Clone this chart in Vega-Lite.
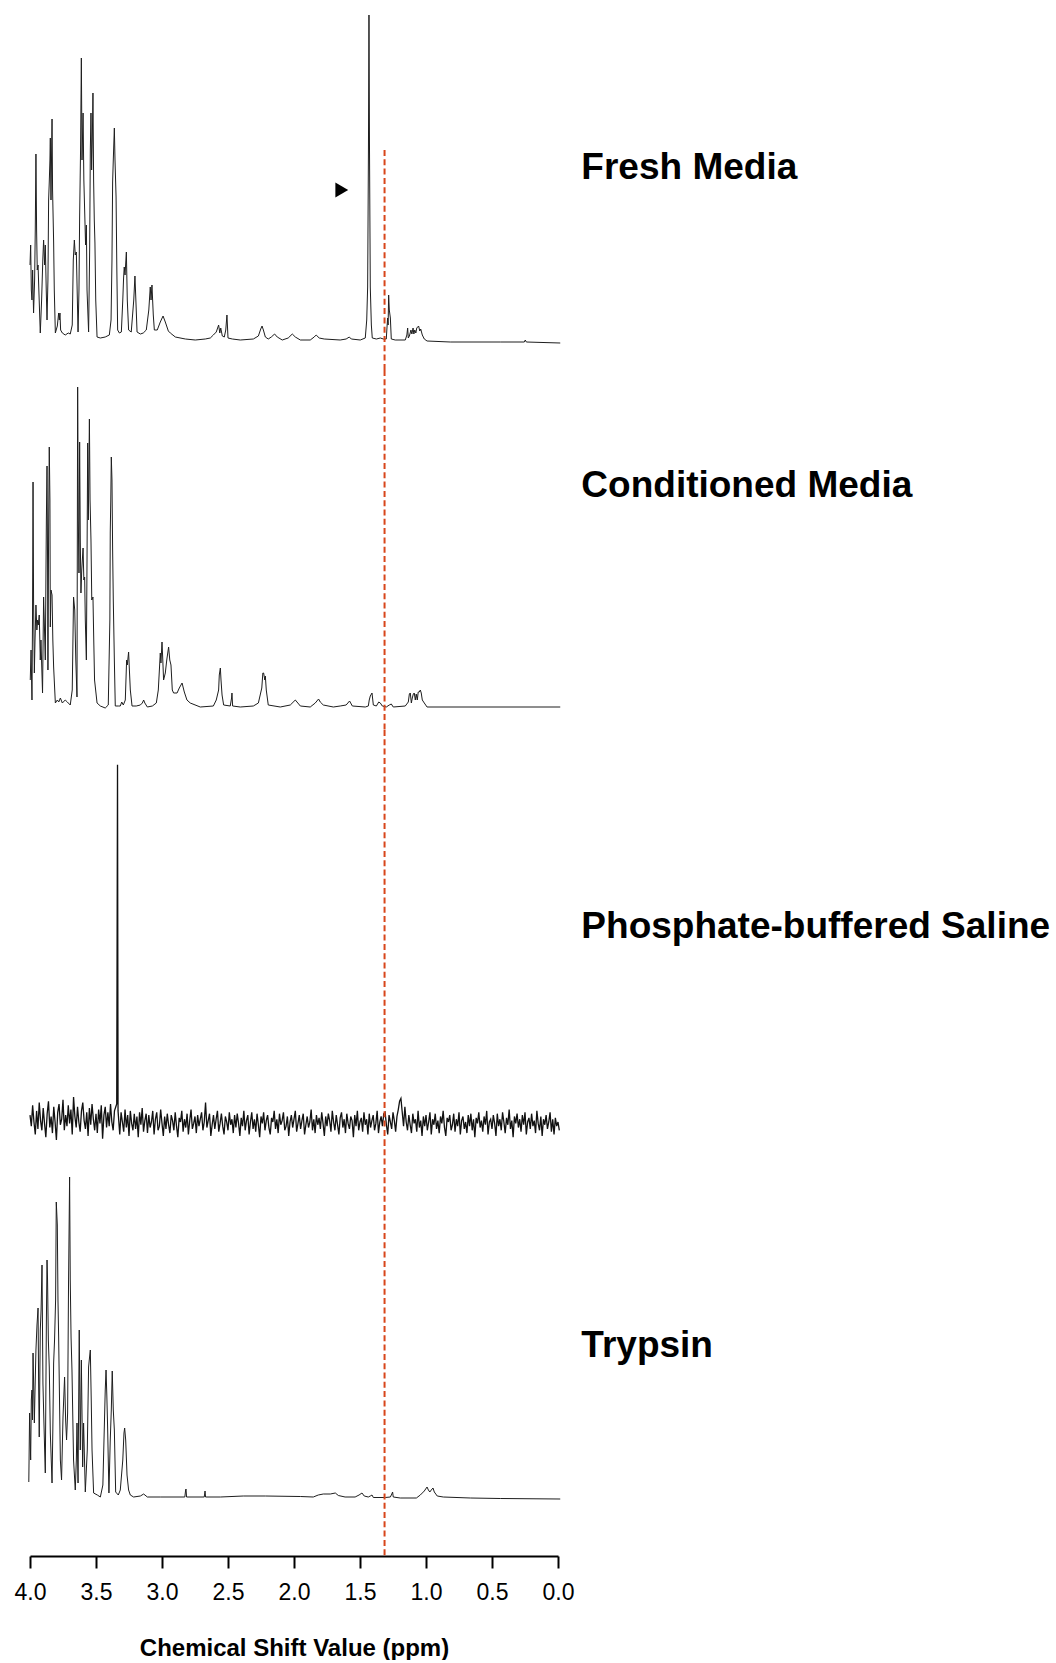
{
  "$schema": "https://vega.github.io/schema/vega-lite/v6.json",
  "background": "white",
  "padding": {"left": 14, "top": 0, "right": 0, "bottom": 0},
  "bounds": "flush",
  "spacing": 0,
  "config": {
    "view": {"stroke": null},
    "font": "Liberation Sans",
    "concat": {"spacing": 0},
    "line": {"color": "#1e1e1e", "strokeWidth": 1},
    "text": {"font": "Liberation Sans"}
  },
  "datasets": {
    "fresh": [
      {"ppm":4.0,"I":75},{"ppm":3.995,"I":95},{"ppm":3.99,"I":50},{"ppm":3.985,"I":40},{"ppm":3.98,"I":70},{"ppm":3.973,"I":27},{"ppm":3.965,"I":60},{"ppm":3.96,"I":110},{"ppm":3.955,"I":186},{"ppm":3.95,"I":110},{"ppm":3.945,"I":70},{"ppm":3.939,"I":75},{"ppm":3.933,"I":50},{"ppm":3.922,"I":7},{"ppm":3.912,"I":40},{"ppm":3.903,"I":80},{"ppm":3.897,"I":100},{"ppm":3.889,"I":75},{"ppm":3.884,"I":95},{"ppm":3.877,"I":50},{"ppm":3.871,"I":20},{"ppm":3.864,"I":60},{"ppm":3.859,"I":140},{"ppm":3.854,"I":158},{"ppm":3.849,"I":180},{"ppm":3.846,"I":202},{"ppm":3.841,"I":140},{"ppm":3.833,"I":221},{"ppm":3.829,"I":150},{"ppm":3.821,"I":98},{"ppm":3.816,"I":50},{"ppm":3.808,"I":7},{"ppm":3.793,"I":14},{"ppm":3.783,"I":27},{"ppm":3.778,"I":20},{"ppm":3.773,"I":27},{"ppm":3.768,"I":10},{"ppm":3.755,"I":7},{"ppm":3.733,"I":5},{"ppm":3.71,"I":7},{"ppm":3.695,"I":6},{"ppm":3.68,"I":15},{"ppm":3.672,"I":80},{"ppm":3.664,"I":100},{"ppm":3.657,"I":85},{"ppm":3.649,"I":88},{"ppm":3.636,"I":8},{"ppm":3.629,"I":50},{"ppm":3.624,"I":123},{"ppm":3.617,"I":190},{"ppm":3.611,"I":282},{"ppm":3.606,"I":180},{"ppm":3.598,"I":227},{"ppm":3.592,"I":160},{"ppm":3.586,"I":130},{"ppm":3.579,"I":95},{"ppm":3.573,"I":115},{"ppm":3.568,"I":50},{"ppm":3.556,"I":8},{"ppm":3.548,"I":90},{"ppm":3.543,"I":190},{"ppm":3.538,"I":227},{"ppm":3.533,"I":170},{"ppm":3.528,"I":200},{"ppm":3.523,"I":247},{"ppm":3.518,"I":160},{"ppm":3.513,"I":120},{"ppm":3.508,"I":97},{"ppm":3.502,"I":40},{"ppm":3.492,"I":3},{"ppm":3.467,"I":2},{"ppm":3.43,"I":3},{"ppm":3.399,"I":5},{"ppm":3.386,"I":20},{"ppm":3.379,"I":80},{"ppm":3.374,"I":158},{"ppm":3.369,"I":180},{"ppm":3.361,"I":212},{"ppm":3.356,"I":180},{"ppm":3.348,"I":143},{"ppm":3.342,"I":70},{"ppm":3.336,"I":10},{"ppm":3.323,"I":7},{"ppm":3.308,"I":8},{"ppm":3.297,"I":40},{"ppm":3.291,"I":62},{"ppm":3.286,"I":73},{"ppm":3.28,"I":65},{"ppm":3.27,"I":88},{"ppm":3.263,"I":40},{"ppm":3.253,"I":10},{"ppm":3.233,"I":8},{"ppm":3.214,"I":40},{"ppm":3.205,"I":64},{"ppm":3.198,"I":40},{"ppm":3.189,"I":8},{"ppm":3.164,"I":6},{"ppm":3.142,"I":7},{"ppm":3.119,"I":10},{"ppm":3.1,"I":30},{"ppm":3.089,"I":53},{"ppm":3.083,"I":40},{"ppm":3.076,"I":55},{"ppm":3.066,"I":25},{"ppm":3.058,"I":10},{"ppm":3.036,"I":10},{"ppm":3.013,"I":18},{"ppm":2.992,"I":24},{"ppm":2.975,"I":18},{"ppm":2.952,"I":9},{"ppm":2.937,"I":7},{"ppm":2.899,"I":3},{"ppm":2.823,"I":1},{"ppm":2.748,"I":0},{"ppm":2.672,"I":1},{"ppm":2.634,"I":2},{"ppm":2.611,"I":5},{"ppm":2.589,"I":8},{"ppm":2.571,"I":15},{"ppm":2.562,"I":7},{"ppm":2.555,"I":12},{"ppm":2.543,"I":4},{"ppm":2.528,"I":3},{"ppm":2.517,"I":10},{"ppm":2.508,"I":25},{"ppm":2.5,"I":2},{"ppm":2.467,"I":1},{"ppm":2.407,"I":0},{"ppm":2.308,"I":1},{"ppm":2.27,"I":4},{"ppm":2.252,"I":11},{"ppm":2.242,"I":14},{"ppm":2.232,"I":10},{"ppm":2.217,"I":3},{"ppm":2.195,"I":1},{"ppm":2.172,"I":3},{"ppm":2.147,"I":6},{"ppm":2.127,"I":3},{"ppm":2.089,"I":0},{"ppm":2.044,"I":2},{"ppm":2.013,"I":6},{"ppm":1.99,"I":3},{"ppm":1.952,"I":0},{"ppm":1.877,"I":0},{"ppm":1.847,"I":3},{"ppm":1.832,"I":5},{"ppm":1.809,"I":2},{"ppm":1.771,"I":1},{"ppm":1.65,"I":0},{"ppm":1.605,"I":1},{"ppm":1.581,"I":3},{"ppm":1.566,"I":1},{"ppm":1.498,"I":0},{"ppm":1.46,"I":2},{"ppm":1.449,"I":20},{"ppm":1.442,"I":53},{"ppm":1.436,"I":190},{"ppm":1.432,"I":325},{"ppm":1.428,"I":190},{"ppm":1.422,"I":53},{"ppm":1.414,"I":15},{"ppm":1.407,"I":2},{"ppm":1.376,"I":1},{"ppm":1.346,"I":2},{"ppm":1.323,"I":1},{"ppm":1.301,"I":1},{"ppm":1.291,"I":22},{"ppm":1.287,"I":15},{"ppm":1.283,"I":45},{"ppm":1.278,"I":30},{"ppm":1.27,"I":22},{"ppm":1.263,"I":1},{"ppm":1.233,"I":0},{"ppm":1.157,"I":0},{"ppm":1.145,"I":5},{"ppm":1.139,"I":12},{"ppm":1.134,"I":2},{"ppm":1.126,"I":4},{"ppm":1.114,"I":10},{"ppm":1.107,"I":6},{"ppm":1.098,"I":12},{"ppm":1.092,"I":6},{"ppm":1.085,"I":10},{"ppm":1.077,"I":7},{"ppm":1.07,"I":12},{"ppm":1.056,"I":14},{"ppm":1.047,"I":9},{"ppm":1.04,"I":11},{"ppm":1.028,"I":5},{"ppm":1.013,"I":1},{"ppm":0.992,"I":-1},{"ppm":0.816,"I":-2},{"ppm":0.437,"I":-2},{"ppm":0.255,"I":-2},{"ppm":0.248,"I":0},{"ppm":0.24,"I":-2},{"ppm":-0.017,"I":-3}
    ],
    "cond": [
      {"ppm":3.998,"I":27},{"ppm":3.992,"I":57},{"ppm":3.985,"I":7},{"ppm":3.981,"I":87},{"ppm":3.977,"I":225},{"ppm":3.973,"I":107},{"ppm":3.967,"I":34},{"ppm":3.962,"I":67},{"ppm":3.955,"I":102},{"ppm":3.948,"I":77},{"ppm":3.942,"I":87},{"ppm":3.937,"I":82},{"ppm":3.93,"I":92},{"ppm":3.922,"I":47},{"ppm":3.917,"I":67},{"ppm":3.905,"I":14},{"ppm":3.897,"I":110},{"ppm":3.892,"I":87},{"ppm":3.884,"I":47},{"ppm":3.876,"I":187},{"ppm":3.871,"I":241},{"ppm":3.867,"I":147},{"ppm":3.864,"I":37},{"ppm":3.859,"I":177},{"ppm":3.854,"I":260},{"ppm":3.849,"I":207},{"ppm":3.846,"I":80},{"ppm":3.841,"I":117},{"ppm":3.833,"I":112},{"ppm":3.827,"I":67},{"ppm":3.821,"I":40},{"ppm":3.808,"I":4},{"ppm":3.793,"I":7},{"ppm":3.782,"I":5},{"ppm":3.77,"I":9},{"ppm":3.755,"I":4},{"ppm":3.733,"I":7},{"ppm":3.717,"I":5},{"ppm":3.695,"I":2},{"ppm":3.68,"I":17},{"ppm":3.67,"I":110},{"ppm":3.661,"I":97},{"ppm":3.653,"I":47},{"ppm":3.644,"I":10},{"ppm":3.639,"I":320},{"ppm":3.634,"I":187},{"ppm":3.629,"I":134},{"ppm":3.624,"I":265},{"ppm":3.619,"I":167},{"ppm":3.614,"I":114},{"ppm":3.608,"I":137},{"ppm":3.598,"I":159},{"ppm":3.592,"I":127},{"ppm":3.586,"I":130},{"ppm":3.581,"I":87},{"ppm":3.573,"I":47},{"ppm":3.568,"I":147},{"ppm":3.563,"I":264},{"ppm":3.558,"I":187},{"ppm":3.55,"I":288},{"ppm":3.545,"I":207},{"ppm":3.538,"I":167},{"ppm":3.532,"I":107},{"ppm":3.523,"I":110},{"ppm":3.517,"I":67},{"ppm":3.511,"I":27},{"ppm":3.492,"I":4},{"ppm":3.467,"I":1},{"ppm":3.43,"I":-1},{"ppm":3.407,"I":2},{"ppm":3.395,"I":87},{"ppm":3.392,"I":175},{"ppm":3.388,"I":207},{"ppm":3.384,"I":250},{"ppm":3.379,"I":227},{"ppm":3.374,"I":157},{"ppm":3.369,"I":107},{"ppm":3.361,"I":47},{"ppm":3.354,"I":1},{"ppm":3.331,"I":1},{"ppm":3.316,"I":1},{"ppm":3.305,"I":5},{"ppm":3.293,"I":2},{"ppm":3.278,"I":7},{"ppm":3.268,"I":47},{"ppm":3.263,"I":42},{"ppm":3.253,"I":55},{"ppm":3.247,"I":37},{"ppm":3.24,"I":17},{"ppm":3.227,"I":1},{"ppm":3.195,"I":1},{"ppm":3.164,"I":2},{"ppm":3.149,"I":4},{"ppm":3.139,"I":7},{"ppm":3.13,"I":4},{"ppm":3.111,"I":0},{"ppm":3.073,"I":1},{"ppm":3.043,"I":4},{"ppm":3.028,"I":17},{"ppm":3.013,"I":54},{"ppm":3.008,"I":44},{"ppm":3.0,"I":65},{"ppm":2.994,"I":47},{"ppm":2.988,"I":27},{"ppm":2.975,"I":34},{"ppm":2.964,"I":47},{"ppm":2.95,"I":60},{"ppm":2.941,"I":47},{"ppm":2.932,"I":42},{"ppm":2.922,"I":17},{"ppm":2.912,"I":14},{"ppm":2.886,"I":14},{"ppm":2.869,"I":19},{"ppm":2.848,"I":24},{"ppm":2.831,"I":15},{"ppm":2.811,"I":7},{"ppm":2.786,"I":4},{"ppm":2.71,"I":0},{"ppm":2.611,"I":1},{"ppm":2.589,"I":7},{"ppm":2.571,"I":17},{"ppm":2.566,"I":32},{"ppm":2.558,"I":39},{"ppm":2.553,"I":27},{"ppm":2.545,"I":12},{"ppm":2.533,"I":2},{"ppm":2.483,"I":1},{"ppm":2.473,"I":9},{"ppm":2.47,"I":14},{"ppm":2.465,"I":1},{"ppm":2.407,"I":0},{"ppm":2.308,"I":1},{"ppm":2.27,"I":4},{"ppm":2.244,"I":19},{"ppm":2.236,"I":34},{"ppm":2.23,"I":34},{"ppm":2.221,"I":27},{"ppm":2.217,"I":31},{"ppm":2.21,"I":17},{"ppm":2.195,"I":2},{"ppm":2.104,"I":0},{"ppm":2.028,"I":2},{"ppm":1.99,"I":7},{"ppm":1.952,"I":1},{"ppm":1.877,"I":0},{"ppm":1.839,"I":4},{"ppm":1.814,"I":8},{"ppm":1.801,"I":5},{"ppm":1.778,"I":2},{"ppm":1.702,"I":0},{"ppm":1.65,"I":1},{"ppm":1.605,"I":2},{"ppm":1.579,"I":6},{"ppm":1.558,"I":1},{"ppm":1.46,"I":0},{"ppm":1.437,"I":1},{"ppm":1.43,"I":7},{"ppm":1.422,"I":11},{"ppm":1.409,"I":14},{"ppm":1.399,"I":2},{"ppm":1.376,"I":1},{"ppm":1.358,"I":5},{"ppm":1.346,"I":4},{"ppm":1.331,"I":1},{"ppm":1.301,"I":0},{"ppm":1.278,"I":2},{"ppm":1.263,"I":3},{"ppm":1.248,"I":0},{"ppm":1.157,"I":1},{"ppm":1.134,"I":5},{"ppm":1.126,"I":13},{"ppm":1.119,"I":14},{"ppm":1.111,"I":4},{"ppm":1.104,"I":9},{"ppm":1.096,"I":13},{"ppm":1.089,"I":14},{"ppm":1.081,"I":7},{"ppm":1.074,"I":13},{"ppm":1.066,"I":7},{"ppm":1.059,"I":15},{"ppm":1.051,"I":15},{"ppm":1.043,"I":17},{"ppm":1.036,"I":14},{"ppm":1.028,"I":7},{"ppm":1.013,"I":4},{"ppm":0.992,"I":0},{"ppm":-0.017,"I":0}
    ],
    "pbs": [
      {"ppm":4.0,"I":2},{"ppm":3.99,"I":-6},{"ppm":3.98,"I":9},{"ppm":3.97,"I":-3},{"ppm":3.96,"I":-12},{"ppm":3.95,"I":5},{"ppm":3.94,"I":-8},{"ppm":3.93,"I":11},{"ppm":3.92,"I":-2},{"ppm":3.91,"I":-9},
      {"ppm":3.9,"I":7},{"ppm":3.89,"I":-4},{"ppm":3.88,"I":-14},{"ppm":3.87,"I":3},{"ppm":3.86,"I":12},{"ppm":3.85,"I":-7},{"ppm":3.84,"I":1},{"ppm":3.83,"I":-11},{"ppm":3.82,"I":8},{"ppm":3.81,"I":-3},
      {"ppm":3.8,"I":-16},{"ppm":3.79,"I":4},{"ppm":3.78,"I":10},{"ppm":3.77,"I":-5},{"ppm":3.76,"I":-1},{"ppm":3.75,"I":13},{"ppm":3.74,"I":-9},{"ppm":3.73,"I":2},{"ppm":3.72,"I":-6},{"ppm":3.71,"I":9},
      {"ppm":3.7,"I":-4},{"ppm":3.69,"I":6},{"ppm":3.68,"I":-12},{"ppm":3.67,"I":15},{"ppm":3.66,"I":1},{"ppm":3.65,"I":-7},{"ppm":3.64,"I":8},{"ppm":3.63,"I":-3},{"ppm":3.62,"I":-10},{"ppm":3.61,"I":5},
      {"ppm":3.6,"I":11},{"ppm":3.59,"I":-2},{"ppm":3.58,"I":-8},{"ppm":3.57,"I":4},{"ppm":3.56,"I":-13},{"ppm":3.55,"I":7},{"ppm":3.54,"I":-5},{"ppm":3.53,"I":10},{"ppm":3.52,"I":-1},{"ppm":3.51,"I":-9},
      {"ppm":3.5,"I":3},{"ppm":3.49,"I":-11},{"ppm":3.48,"I":6},{"ppm":3.47,"I":-4},{"ppm":3.46,"I":9},{"ppm":3.45,"I":-15},{"ppm":3.44,"I":2},{"ppm":3.43,"I":8},{"ppm":3.42,"I":-7},{"ppm":3.41,"I":4},
      {"ppm":3.4,"I":-6},{"ppm":3.39,"I":10},{"ppm":3.38,"I":-3},{"ppm":3.37,"I":-9},{"ppm":3.36,"I":5},{"ppm":3.35,"I":8},{"ppm":3.343,"I":10},{"ppm":3.337,"I":255},{"ppm":3.333,"I":5},{"ppm":3.32,"I":-12},{"ppm":3.31,"I":4},
      {"ppm":3.3,"I":-3},{"ppm":3.29,"I":-10},{"ppm":3.28,"I":6},{"ppm":3.27,"I":-7},{"ppm":3.26,"I":2},{"ppm":3.25,"I":-13},{"ppm":3.24,"I":5},{"ppm":3.23,"I":-4},{"ppm":3.22,"I":-9},{"ppm":3.21,"I":3},
      {"ppm":3.2,"I":-8},{"ppm":3.19,"I":1},{"ppm":3.18,"I":-14},{"ppm":3.17,"I":4},{"ppm":3.16,"I":-5},{"ppm":3.15,"I":7},{"ppm":3.14,"I":-10},{"ppm":3.13,"I":-2},{"ppm":3.12,"I":3},{"ppm":3.11,"I":-11},
      {"ppm":3.1,"I":2},{"ppm":3.09,"I":-7},{"ppm":3.08,"I":-3},{"ppm":3.07,"I":5},{"ppm":3.06,"I":-12},{"ppm":3.05,"I":-1},{"ppm":3.04,"I":4},{"ppm":3.03,"I":-9},{"ppm":3.02,"I":-6},{"ppm":3.01,"I":6},
      {"ppm":3.0,"I":-4},{"ppm":2.99,"I":-13},{"ppm":2.98,"I":1},{"ppm":2.97,"I":-8},{"ppm":2.96,"I":3},{"ppm":2.95,"I":-5},{"ppm":2.94,"I":-11},{"ppm":2.93,"I":2},{"ppm":2.92,"I":-2},{"ppm":2.91,"I":-9},
      {"ppm":2.9,"I":4},{"ppm":2.89,"I":-6},{"ppm":2.88,"I":-14},{"ppm":2.87,"I":0},{"ppm":2.86,"I":-3},{"ppm":2.85,"I":5},{"ppm":2.84,"I":-10},{"ppm":2.83,"I":-1},{"ppm":2.82,"I":-7},{"ppm":2.81,"I":3},
      {"ppm":2.8,"I":-12},{"ppm":2.79,"I":-2},{"ppm":2.78,"I":6},{"ppm":2.77,"I":-8},{"ppm":2.76,"I":-4},{"ppm":2.75,"I":1},{"ppm":2.74,"I":-11},{"ppm":2.73,"I":2},{"ppm":2.72,"I":-6},{"ppm":2.71,"I":-1},
      {"ppm":2.7,"I":4},{"ppm":2.69,"I":-9},{"ppm":2.68,"I":-3},{"ppm":2.67,"I":11},{"ppm":2.66,"I":-7},{"ppm":2.65,"I":-2},{"ppm":2.64,"I":3},{"ppm":2.63,"I":-13},{"ppm":2.62,"I":-5},{"ppm":2.61,"I":2},
      {"ppm":2.6,"I":-8},{"ppm":2.59,"I":-1},{"ppm":2.58,"I":5},{"ppm":2.57,"I":-10},{"ppm":2.56,"I":-4},{"ppm":2.55,"I":3},{"ppm":2.54,"I":-6},{"ppm":2.53,"I":-12},{"ppm":2.52,"I":1},{"ppm":2.51,"I":-3},
      {"ppm":2.5,"I":-9},{"ppm":2.49,"I":4},{"ppm":2.48,"I":-5},{"ppm":2.47,"I":-1},{"ppm":2.46,"I":-11},{"ppm":2.45,"I":2},{"ppm":2.44,"I":-7},{"ppm":2.43,"I":3},{"ppm":2.42,"I":-4},{"ppm":2.41,"I":-13},
      {"ppm":2.4,"I":0},{"ppm":2.39,"I":-6},{"ppm":2.38,"I":5},{"ppm":2.37,"I":-9},{"ppm":2.36,"I":-2},{"ppm":2.35,"I":2},{"ppm":2.34,"I":-12},{"ppm":2.33,"I":-3},{"ppm":2.32,"I":4},{"ppm":2.31,"I":-8},
      {"ppm":2.3,"I":-1},{"ppm":2.29,"I":-10},{"ppm":2.28,"I":3},{"ppm":2.27,"I":-5},{"ppm":2.26,"I":-14},{"ppm":2.25,"I":1},{"ppm":2.24,"I":-4},{"ppm":2.23,"I":4},{"ppm":2.22,"I":-9},{"ppm":2.21,"I":-2},
      {"ppm":2.2,"I":2},{"ppm":2.19,"I":-7},{"ppm":2.18,"I":-12},{"ppm":2.17,"I":0},{"ppm":2.16,"I":-3},{"ppm":2.15,"I":5},{"ppm":2.14,"I":-8},{"ppm":2.13,"I":-1},{"ppm":2.12,"I":-11},{"ppm":2.11,"I":3},
      {"ppm":2.1,"I":-5},{"ppm":2.09,"I":-2},{"ppm":2.08,"I":4},{"ppm":2.07,"I":-9},{"ppm":2.06,"I":-6},{"ppm":2.05,"I":1},{"ppm":2.04,"I":-13},{"ppm":2.03,"I":-3},{"ppm":2.02,"I":2},{"ppm":2.01,"I":-7},
      {"ppm":2.0,"I":-1},{"ppm":1.99,"I":5},{"ppm":1.98,"I":-10},{"ppm":1.97,"I":-4},{"ppm":1.96,"I":2},{"ppm":1.95,"I":-8},{"ppm":1.94,"I":-2},{"ppm":1.93,"I":3},{"ppm":1.92,"I":-12},{"ppm":1.91,"I":-5},
      {"ppm":1.9,"I":1},{"ppm":1.89,"I":-7},{"ppm":1.88,"I":-3},{"ppm":1.87,"I":6},{"ppm":1.86,"I":-9},{"ppm":1.85,"I":-1},{"ppm":1.84,"I":-11},{"ppm":1.83,"I":2},{"ppm":1.82,"I":-5},{"ppm":1.81,"I":0},
      {"ppm":1.8,"I":-8},{"ppm":1.79,"I":4},{"ppm":1.78,"I":-4},{"ppm":1.77,"I":-13},{"ppm":1.76,"I":1},{"ppm":1.75,"I":-6},{"ppm":1.74,"I":3},{"ppm":1.73,"I":-2},{"ppm":1.72,"I":-10},{"ppm":1.71,"I":5},
      {"ppm":1.7,"I":-3},{"ppm":1.69,"I":-9},{"ppm":1.68,"I":2},{"ppm":1.67,"I":-5},{"ppm":1.66,"I":-12},{"ppm":1.65,"I":0},{"ppm":1.64,"I":4},{"ppm":1.63,"I":-7},{"ppm":1.62,"I":-1},{"ppm":1.61,"I":-11},
      {"ppm":1.6,"I":3},{"ppm":1.59,"I":-4},{"ppm":1.58,"I":-8},{"ppm":1.57,"I":1},{"ppm":1.56,"I":-2},{"ppm":1.55,"I":-14},{"ppm":1.54,"I":2},{"ppm":1.53,"I":-6},{"ppm":1.52,"I":5},{"ppm":1.51,"I":-9},
      {"ppm":1.5,"I":-3},{"ppm":1.49,"I":0},{"ppm":1.48,"I":-10},{"ppm":1.47,"I":4},{"ppm":1.46,"I":-5},{"ppm":1.45,"I":-1},{"ppm":1.44,"I":-12},{"ppm":1.43,"I":3},{"ppm":1.42,"I":-7},{"ppm":1.41,"I":-2},
      {"ppm":1.4,"I":2},{"ppm":1.39,"I":-9},{"ppm":1.38,"I":-4},{"ppm":1.37,"I":5},{"ppm":1.36,"I":-11},{"ppm":1.35,"I":-3},{"ppm":1.34,"I":1},{"ppm":1.33,"I":-6},{"ppm":1.32,"I":3},{"ppm":1.31,"I":4},
      {"ppm":1.3,"I":-5},{"ppm":1.29,"I":-12},{"ppm":1.28,"I":2},{"ppm":1.27,"I":-3},{"ppm":1.26,"I":-8},{"ppm":1.25,"I":4},{"ppm":1.24,"I":-2},{"ppm":1.23,"I":-10},{"ppm":1.22,"I":1},{"ppm":1.21,"I":6},
      {"ppm":1.2,"I":12},{"ppm":1.19,"I":14},{"ppm":1.18,"I":4},{"ppm":1.17,"I":-6},{"ppm":1.16,"I":8},{"ppm":1.15,"I":-3},{"ppm":1.14,"I":-9},{"ppm":1.13,"I":2},{"ppm":1.12,"I":-5},{"ppm":1.11,"I":-11},
      {"ppm":1.1,"I":3},{"ppm":1.09,"I":-4},{"ppm":1.08,"I":-1},{"ppm":1.07,"I":-10},{"ppm":1.06,"I":5},{"ppm":1.05,"I":-7},{"ppm":1.04,"I":-2},{"ppm":1.03,"I":-13},{"ppm":1.02,"I":1},{"ppm":1.01,"I":-6},
      {"ppm":1.0,"I":2},{"ppm":0.99,"I":-9},{"ppm":0.98,"I":-3},{"ppm":0.97,"I":4},{"ppm":0.96,"I":-12},{"ppm":0.95,"I":-1},{"ppm":0.94,"I":-5},{"ppm":0.93,"I":3},{"ppm":0.92,"I":-8},{"ppm":0.91,"I":-2},
      {"ppm":0.9,"I":-11},{"ppm":0.89,"I":1},{"ppm":0.88,"I":-4},{"ppm":0.87,"I":5},{"ppm":0.86,"I":-7},{"ppm":0.85,"I":-13},{"ppm":0.84,"I":0},{"ppm":0.83,"I":-3},{"ppm":0.82,"I":2},{"ppm":0.81,"I":-9},
      {"ppm":0.8,"I":-5},{"ppm":0.79,"I":3},{"ppm":0.78,"I":-10},{"ppm":0.77,"I":-1},{"ppm":0.76,"I":-6},{"ppm":0.75,"I":4},{"ppm":0.74,"I":-12},{"ppm":0.73,"I":-2},{"ppm":0.72,"I":1},{"ppm":0.71,"I":-8},
      {"ppm":0.7,"I":-3},{"ppm":0.69,"I":-11},{"ppm":0.68,"I":2},{"ppm":0.67,"I":-6},{"ppm":0.66,"I":3},{"ppm":0.65,"I":-9},{"ppm":0.64,"I":-1},{"ppm":0.63,"I":-14},{"ppm":0.62,"I":0},{"ppm":0.61,"I":-4},
      {"ppm":0.6,"I":4},{"ppm":0.59,"I":-7},{"ppm":0.58,"I":-2},{"ppm":0.57,"I":-10},{"ppm":0.56,"I":1},{"ppm":0.55,"I":-5},{"ppm":0.54,"I":5},{"ppm":0.53,"I":-12},{"ppm":0.52,"I":-3},{"ppm":0.51,"I":-1},
      {"ppm":0.5,"I":-8},{"ppm":0.49,"I":2},{"ppm":0.48,"I":-4},{"ppm":0.47,"I":-13},{"ppm":0.46,"I":3},{"ppm":0.45,"I":-6},{"ppm":0.44,"I":-1},{"ppm":0.43,"I":-9},{"ppm":0.42,"I":4},{"ppm":0.41,"I":-3},
      {"ppm":0.4,"I":-11},{"ppm":0.39,"I":0},{"ppm":0.38,"I":-5},{"ppm":0.37,"I":6},{"ppm":0.36,"I":-8},{"ppm":0.35,"I":-2},{"ppm":0.34,"I":-14},{"ppm":0.33,"I":1},{"ppm":0.32,"I":-4},{"ppm":0.31,"I":3},
      {"ppm":0.3,"I":-7},{"ppm":0.29,"I":-1},{"ppm":0.28,"I":-10},{"ppm":0.27,"I":2},{"ppm":0.26,"I":-5},{"ppm":0.25,"I":4},{"ppm":0.24,"I":-12},{"ppm":0.23,"I":-3},{"ppm":0.22,"I":0},{"ppm":0.21,"I":-8},
      {"ppm":0.2,"I":3},{"ppm":0.19,"I":-6},{"ppm":0.18,"I":-2},{"ppm":0.17,"I":-11},{"ppm":0.16,"I":5},{"ppm":0.15,"I":-4},{"ppm":0.14,"I":-9},{"ppm":0.13,"I":1},{"ppm":0.12,"I":-13},{"ppm":0.11,"I":-1},
      {"ppm":0.1,"I":-5},{"ppm":0.09,"I":2},{"ppm":0.08,"I":-8},{"ppm":0.07,"I":-3},{"ppm":0.06,"I":4},{"ppm":0.05,"I":-10},{"ppm":0.04,"I":-1},{"ppm":0.03,"I":-12},{"ppm":0.02,"I":0},{"ppm":0.01,"I":-6},
      {"ppm":0.0,"I":-3},{"ppm":-0.01,"I":-9}
    ],
    "tryp": [
      {"ppm":4.009,"I":15},{"ppm":4.003,"I":84},{"ppm":3.995,"I":37},{"ppm":3.99,"I":97},{"ppm":3.985,"I":107},{"ppm":3.981,"I":77},{"ppm":3.977,"I":144},{"ppm":3.973,"I":117},{"ppm":3.967,"I":74},{"ppm":3.962,"I":107},{"ppm":3.955,"I":147},{"ppm":3.947,"I":172},{"ppm":3.939,"I":189},{"ppm":3.935,"I":117},{"ppm":3.93,"I":60},{"ppm":3.922,"I":167},{"ppm":3.916,"I":187},{"ppm":3.909,"I":232},{"ppm":3.902,"I":114},{"ppm":3.895,"I":77},{"ppm":3.889,"I":47},{"ppm":3.884,"I":24},{"ppm":3.876,"I":174},{"ppm":3.871,"I":237},{"ppm":3.867,"I":217},{"ppm":3.861,"I":157},{"ppm":3.854,"I":130},{"ppm":3.846,"I":64},{"ppm":3.833,"I":14},{"ppm":3.827,"I":67},{"ppm":3.821,"I":134},{"ppm":3.814,"I":157},{"ppm":3.806,"I":197},{"ppm":3.801,"I":295},{"ppm":3.793,"I":272},{"ppm":3.788,"I":197},{"ppm":3.783,"I":160},{"ppm":3.77,"I":37},{"ppm":3.761,"I":17},{"ppm":3.75,"I":80},{"ppm":3.738,"I":120},{"ppm":3.73,"I":77},{"ppm":3.723,"I":57},{"ppm":3.715,"I":84},{"ppm":3.708,"I":214},{"ppm":3.7,"I":320},{"ppm":3.695,"I":217},{"ppm":3.689,"I":160},{"ppm":3.682,"I":127},{"ppm":3.67,"I":37},{"ppm":3.657,"I":7},{"ppm":3.649,"I":37},{"ppm":3.644,"I":74},{"ppm":3.636,"I":14},{"ppm":3.627,"I":167},{"ppm":3.619,"I":47},{"ppm":3.611,"I":137},{"ppm":3.601,"I":30},{"ppm":3.594,"I":74},{"ppm":3.581,"I":5},{"ppm":3.566,"I":47},{"ppm":3.556,"I":130},{"ppm":3.551,"I":137},{"ppm":3.543,"I":147},{"ppm":3.536,"I":97},{"ppm":3.53,"I":47},{"ppm":3.518,"I":4},{"ppm":3.49,"I":2},{"ppm":3.467,"I":0},{"ppm":3.448,"I":12},{"ppm":3.437,"I":70},{"ppm":3.43,"I":107},{"ppm":3.424,"I":127},{"ppm":3.418,"I":102},{"ppm":3.412,"I":70},{"ppm":3.402,"I":4},{"ppm":3.392,"I":57},{"ppm":3.384,"I":87},{"ppm":3.377,"I":126},{"ppm":3.369,"I":87},{"ppm":3.361,"I":67},{"ppm":3.351,"I":5},{"ppm":3.331,"I":2},{"ppm":3.316,"I":7},{"ppm":3.297,"I":37},{"ppm":3.288,"I":64},{"ppm":3.283,"I":69},{"ppm":3.275,"I":57},{"ppm":3.265,"I":22},{"ppm":3.253,"I":7},{"ppm":3.24,"I":2},{"ppm":3.215,"I":0},{"ppm":3.164,"I":1},{"ppm":3.139,"I":3},{"ppm":3.111,"I":0},{"ppm":3.013,"I":0},{"ppm":2.827,"I":0},{"ppm":2.821,"I":7},{"ppm":2.818,"I":8},{"ppm":2.814,"I":0},{"ppm":2.68,"I":0},{"ppm":2.674,"I":6},{"ppm":2.67,"I":0},{"ppm":2.558,"I":0},{"ppm":2.384,"I":1},{"ppm":2.217,"I":1},{"ppm":1.952,"I":0.5},{"ppm":1.854,"I":0},{"ppm":1.816,"I":2},{"ppm":1.778,"I":3},{"ppm":1.725,"I":3},{"ppm":1.687,"I":4},{"ppm":1.664,"I":1.5},{"ppm":1.613,"I":0},{"ppm":1.537,"I":0},{"ppm":1.507,"I":2},{"ppm":1.485,"I":4},{"ppm":1.468,"I":1},{"ppm":1.437,"I":0},{"ppm":1.422,"I":1},{"ppm":1.409,"I":2},{"ppm":1.399,"I":-0.5},{"ppm":1.308,"I":-0.5},{"ppm":1.27,"I":0},{"ppm":1.259,"I":3},{"ppm":1.253,"I":5},{"ppm":1.248,"I":0},{"ppm":1.195,"I":-1},{"ppm":1.073,"I":-1},{"ppm":1.043,"I":2},{"ppm":1.013,"I":6},{"ppm":0.992,"I":10},{"ppm":0.982,"I":7},{"ppm":0.971,"I":5},{"ppm":0.96,"I":7},{"ppm":0.947,"I":9},{"ppm":0.937,"I":5},{"ppm":0.915,"I":1},{"ppm":0.869,"I":0},{"ppm":0.664,"I":-1},{"ppm":0.437,"I":-1.5},{"ppm":-0.017,"I":-2}
    ]
  },
  "vconcat": [
    {
      "width": 528,
      "height": 370,
      "encoding": {"x": {"field": "ppm", "type": "quantitative", "scale": {"domain": [0, 4], "reverse": true, "nice": false}, "axis": null}},
      "layer": [
        {"data": {"name": "fresh"}, "mark": {"type": "line", "clip": false},
         "encoding": {"y": {"field": "I", "type": "quantitative", "scale": {"domain": [-30, 340], "nice": false, "zero": false}, "axis": null}}},
        {"data": {"values": [{"ppm": 1.314, "top": 190, "bottom": -30}]},
         "mark": {"type": "rule", "color": "#d8461b", "strokeWidth": 2, "strokeDash": [6, 3.3]},
         "encoding": {"y": {"field": "top", "type": "quantitative"}, "y2": {"field": "bottom"}}},
        {"data": {"values": [{"ppm": 1.638, "I": 150}]},
         "mark": {"type": "point", "shape": "triangle-right", "filled": true, "color": "black", "opacity": 1, "size": 220},
         "encoding": {"y": {"field": "I", "type": "quantitative"}}},
        {"data": {"values": [{"label": "Fresh Media", "ppm": -0.177, "I": 161}]},
         "mark": {"type": "text", "align": "left", "baseline": "alphabetic", "fontSize": 37, "fontWeight": "bold", "color": "black"},
         "encoding": {"y": {"field": "I", "type": "quantitative"}, "text": {"field": "label"}}}
      ]
    },
    {
      "width": 528,
      "height": 360,
      "encoding": {"x": {"field": "ppm", "type": "quantitative", "scale": {"domain": [0, 4], "reverse": true, "nice": false}, "axis": null}},
      "layer": [
        {"data": {"name": "cond"}, "mark": {"type": "line", "clip": false},
         "encoding": {"y": {"field": "I", "type": "quantitative", "scale": {"domain": [-23, 337], "nice": false, "zero": false}, "axis": null}}},
        {"data": {"values": [{"ppm": 1.314}]},
         "mark": {"type": "rule", "color": "#d8461b", "strokeWidth": 2, "strokeDash": [6, 3.3]},
         "encoding": {}},
        {"data": {"values": [{"label": "Conditioned Media", "ppm": -0.177, "I": 210}]},
         "mark": {"type": "text", "align": "left", "baseline": "alphabetic", "fontSize": 37, "fontWeight": "bold", "color": "black"},
         "encoding": {"y": {"field": "I", "type": "quantitative"}, "text": {"field": "label"}}}
      ]
    },
    {
      "width": 528,
      "height": 410,
      "encoding": {"x": {"field": "ppm", "type": "quantitative", "scale": {"domain": [0, 4], "reverse": true, "nice": false}, "axis": null}},
      "layer": [
        {"data": {"name": "pbs"}, "mark": {"type": "line", "clip": false, "strokeWidth": 1.3, "color": "#111111"},
         "encoding": {"y": {"field": "I", "type": "quantitative", "scale": {"domain": [-16, 280], "nice": false, "zero": false}, "axis": null}}},
        {"data": {"values": [{"ppm": 1.314}]},
         "mark": {"type": "rule", "color": "#d8461b", "strokeWidth": 2, "strokeDash": [6, 3.3]},
         "encoding": {}},
        {"data": {"values": [{"label": "Phosphate-buffered Saline", "ppm": -0.177, "I": 130}]},
         "mark": {"type": "text", "align": "left", "baseline": "alphabetic", "fontSize": 37, "fontWeight": "bold", "color": "black"},
         "encoding": {"y": {"field": "I", "type": "quantitative"}, "text": {"field": "label"}}}
      ]
    },
    {
      "width": 528,
      "height": 416,
      "encoding": {"x": {"field": "ppm", "type": "quantitative", "title": "Chemical Shift Value (ppm)",
        "scale": {"domain": [0, 4], "reverse": true, "nice": false},
        "axis": {"values": [4, 3.5, 3, 2.5, 2, 1.5, 1, 0.5, 0], "format": ".1f", "grid": false,
          "labelFlush": false, "labelOverlap": false, "labelFontSize": 23, "labelColor": "black", "labelPadding": 13,
          "tickSize": 12, "tickWidth": 2, "tickColor": "black", "domainColor": "black", "domainWidth": 2,
          "titleFontSize": 24, "titleFontWeight": "bold", "titleColor": "black", "titlePadding": 32}}},
      "layer": [
        {"data": {"name": "tryp"}, "mark": {"type": "line", "clip": false},
         "encoding": {"y": {"field": "I", "type": "quantitative", "scale": {"domain": [-59, 357], "nice": false, "zero": false}, "axis": null}}},
        {"data": {"values": [{"ppm": 1.314}]},
         "mark": {"type": "rule", "color": "#d8461b", "strokeWidth": 2, "strokeDash": [6, 3.3]},
         "encoding": {}},
        {"data": {"values": [{"label": "Trypsin", "ppm": -0.177, "I": 140}]},
         "mark": {"type": "text", "align": "left", "baseline": "alphabetic", "fontSize": 37, "fontWeight": "bold", "color": "black"},
         "encoding": {"y": {"field": "I", "type": "quantitative"}, "text": {"field": "label"}}}
      ]
    }
  ]
}
